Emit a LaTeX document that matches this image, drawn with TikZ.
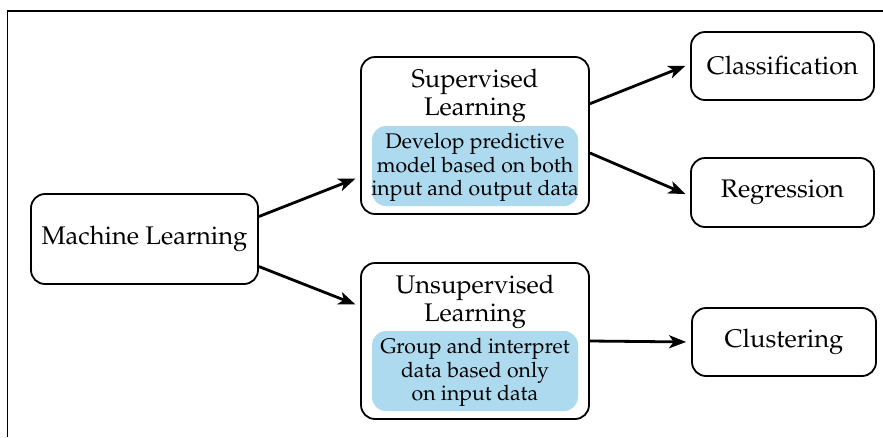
\documentclass[tikz,border=0pt]{standalone}
\usepackage[T1]{fontenc}
\usepackage{mathpazo}
\usetikzlibrary{arrows.meta,calc}

\definecolor{noteblue}{RGB}{173,218,238}

\tikzset{
  x=1pt, y=-1pt,
  box/.style={draw=black, line width=1.8pt, rounded corners=14pt, fill=white,
    inner sep=0pt, align=center, font=\fontsize{25.5}{30}\selectfont},
  note/.style={fill=noteblue, rounded corners=14pt, inner sep=0pt},
  notetext/.style={inner sep=0pt, align=center, font=\fontsize{21.2}{23.5}\selectfont},
  title/.style={inner sep=0pt, align=center, font=\fontsize{25.5}{28}\selectfont},
  link/.style={line width=2.8pt, -{Stealth[length=17pt,width=13pt,inset=4.5pt]},
    shorten >=5pt},
}

\begin{document}
\begin{tikzpicture}
\useasboundingbox (0,0) rectangle (883,437);

% frame lines along the top and left edges
\coordinate (ftop) at (883,11);
\coordinate (fcorner) at (7.5,11);
\coordinate (fbottom) at (7.5,437);
\draw[line width=1.2pt] (ftop) -- (fcorner) -- (fbottom);

% root
\node[box, minimum width=227, minimum height=90] (ml) at (144.5,239) {Machine Learning};

% supervised branch
\node[box, minimum width=228, minimum height=157] (sup) at (475,135.5) {};
\node[title] (suptitle) at (475,95.5) {Supervised\\Learning};
\node[note, minimum width=206, minimum height=80] (supnote) at (475,166) {};
\node[notetext] (supnotetext) at (475,167.5)
  {Develop predictive\\model based on both\\input and output data};

% unsupervised branch
\node[box, minimum width=228, minimum height=156] (uns) at (475,341) {};
\node[title] (unstitle) at (475,301.5) {Unsupervised\\Learning};
\node[note, minimum width=206, minimum height=80] (unsnote) at (475,371) {};
\node[notetext] (unsnotetext) at (475,372.5)
  {Group and interpret\\data based only\\on input data};

% leaves
\node[box, minimum width=183, minimum height=68] (cls) at (782.5,66) {Classification};
\node[box, minimum width=183, minimum height=69] (reg) at (782.5,192.5) {Regression};
\node[box, minimum width=184, minimum height=68] (clu) at (784,342) {Clustering};

% connectors
\draw[link] ($(ml.north east)!0.255!(ml.south east)$) -- ($(sup.north west)!0.76!(sup.south west)$);
\draw[link] ($(ml.north east)!0.80!(ml.south east)$) -- ($(uns.north west)!0.28!(uns.south west)$);
\draw[link] ($(sup.north east)!0.30!(sup.south east)$) -- ($(cls.north west)!0.47!(cls.south west)$);
\draw[link] ($(sup.north east)!0.61!(sup.south east)$) -- ($(reg.north west)!0.55!(reg.south west)$);
\draw[link] (uns.east) -- (clu.west);
\end{tikzpicture}
\end{document}
